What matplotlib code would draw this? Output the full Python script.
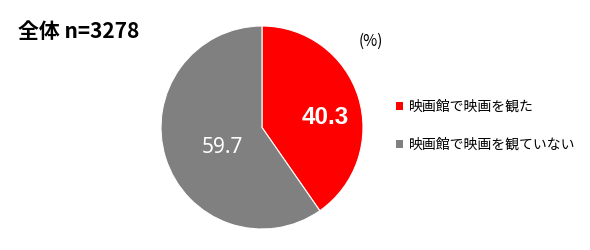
import matplotlib

matplotlib.use("Agg")
import matplotlib.pyplot as plt  # noqa: E402
from matplotlib.patches import Patch  # noqa: E402

plt.rcParams["font.family"] = ["Noto Sans CJK JP", "DejaVu Sans"]

labels = ["映画館で映画を観た", "映画館で映画を観ていない"]
values = [40.3, 59.7]
colors = ["#FF0000", "#808080"]
title = "全体 n=3278"

W, H = 590, 250
fig = plt.figure(figsize=(W / 100, H / 100), dpi=100)

# pie square box in pixels
left, right, top, bottom = 161, 363, 26, 229
ax = fig.add_axes([left / W, (H - bottom) / H, (right - left) / W, (bottom - top) / H])
wedges, _ = ax.pie(values, colors=colors, startangle=90, counterclock=False,
                   wedgeprops=dict(edgecolor="white", linewidth=0.8))
ax.set_aspect("auto")
ax.set_xlim(-1, 1)
ax.set_ylim(-1, 1)
for w in wedges:
    w.set_clip_on(False)

ax.text(0.63, 0.10, f"{values[0]:.1f}", color="white", fontsize=17.5, fontweight="bold",
        ha="center", va="center", family=["Liberation Sans"])
ax.text(-0.39, -0.20, f"{values[1]:.1f}", color="white", fontsize=15,
        ha="center", va="center", family=["Noto Sans"])

fig.text(18 / W, 1 - 32 / H, title, fontsize=15, fontweight="bold", ha="left", va="center")
fig.text(371 / W, 1 - 41 / H, "(%)", fontsize=11, ha="center", va="center")

handles = [Patch(facecolor=c, edgecolor="none") for c in colors]
fig.legend(handles, labels, loc="center left", bbox_to_anchor=(396 / W, 1 - 126 / H),
           frameon=False, fontsize=10, handlelength=0.5, handleheight=0.5,
           handletextpad=0.45, labelspacing=1.75, borderaxespad=0, borderpad=0)

fig.savefig("out.png", dpi=100)
plt.close(fig)
